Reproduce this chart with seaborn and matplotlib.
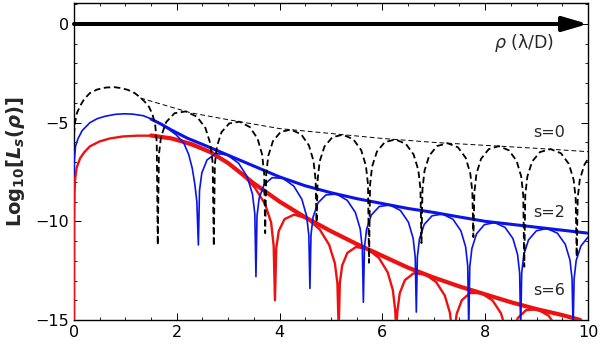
import numpy as np
import pandas as pd
import matplotlib
matplotlib.use("Agg")
import matplotlib.pyplot as plt
from matplotlib.ticker import MultipleLocator
import seaborn as sns

# ---------------- data ----------------
# s = 0 : oscillating curve (black dashed)
s0_x = [0.0, 0.02, 0.06, 0.12, 0.2, 0.31, 0.45, 0.62, 0.78, 0.92, 1.05, 1.18, 1.29, 1.38, 1.46, 1.53, 1.58, 1.61,
        1.63, 1.652, 1.695, 1.794, 1.957, 2.175, 2.393, 2.557, 2.655, 2.698,
        2.72, 2.74, 2.78, 2.87, 3.02, 3.22, 3.42, 3.57, 3.66, 3.70,
        3.72, 3.74, 3.78, 3.87, 4.02, 4.22, 4.42, 4.57, 4.66, 4.70,
        4.72, 4.74, 4.78, 4.873, 5.026, 5.23, 5.434, 5.587, 5.679, 5.72,
        5.74, 5.76, 5.80, 5.893, 6.046, 6.25, 6.454, 6.607, 6.699, 6.74,
        6.76, 6.78, 6.82, 6.91, 7.06, 7.265, 7.47, 7.62, 7.71, 7.75,
        7.77, 7.79, 7.83, 7.92, 8.07, 8.265, 8.46, 8.61, 8.70, 8.74,
        8.76, 8.78, 8.82, 8.913, 9.066, 9.27, 9.474, 9.627, 9.719, 9.76,
        9.78, 9.80, 9.84, 9.93, 10.0]
s0_y = [-5.6, -5.0, -4.5, -4.15, -3.8, -3.5, -3.32, -3.22, -3.2, -3.25, -3.34, -3.5, -3.72, -3.95, -4.2, -4.6, -5.1, -6.0,
        -11.2, -6.62, -5.70, -4.97, -4.52, -4.43, -4.70, -5.27, -6.08, -7.04,
        -11.25, -7.13, -6.21, -5.48, -5.04, -4.95, -5.22, -5.80, -6.61, -7.57,
        -10.6, -7.61, -6.68, -5.94, -5.47, -5.35, -5.59, -6.15, -6.94, -7.89,
        -10.05, -7.89, -6.96, -6.21, -5.74, -5.61, -5.84, -6.39, -7.18, -8.13,
        -12.1, -8.15, -7.22, -6.47, -5.99, -5.85, -6.07, -6.61, -7.40, -8.35,
        -11.1, -8.37, -7.43, -6.68, -6.19, -6.04, -6.25, -6.78, -7.57, -8.51,
        -10.8, -8.52, -7.58, -6.83, -6.34, -6.19, -6.40, -6.93, -7.72, -8.66,
        -12.3, -8.66, -7.73, -6.97, -6.49, -6.34, -6.55, -7.09, -7.88, -8.82,
        -11.8, -8.82, -7.89, -7.13, -6.84]
# s = 0 : envelope (thin dashed)
s0_env_x = [1.29, 2.27, 3.0, 4.0, 5.0, 6.0, 7.0, 8.0, 9.0, 10.0]
s0_env_y = [-3.75, -4.5, -4.85, -5.3, -5.55, -5.8, -6.0, -6.15, -6.3, -6.47]

# s = 2 : oscillating curve (blue)
s2_x = [0.0, 0.01, 0.03, 0.08, 0.16, 0.31, 0.45, 0.6, 0.8, 0.98, 1.15, 1.35, 1.54, 1.7, 1.85, 1.98, 2.13, 2.23, 2.30, 2.35, 2.39,
        2.42, 2.442, 2.487, 2.588, 2.756, 2.98, 3.204, 3.372, 3.473, 3.518,
        3.54, 3.561, 3.603, 3.698, 3.855, 4.065, 4.275, 4.433, 4.527, 4.569,
        4.59, 4.611, 4.652, 4.746, 4.902, 5.11, 5.318, 5.474, 5.568, 5.609,
        5.63, 5.651, 5.692, 5.785, 5.939, 6.145, 6.351, 6.506, 6.598, 6.639,
        6.66, 6.68, 6.721, 6.813, 6.966, 7.17, 7.374, 7.527, 7.619, 7.66,
        7.68, 7.70, 7.741, 7.832, 7.983, 8.185, 8.387, 8.539, 8.629, 8.67,
        8.69, 8.71, 8.751, 8.843, 8.996, 9.2, 9.404, 9.557, 9.649, 9.69,
        9.71, 9.73, 9.77, 9.862, 10.0]
s2_y = [-7.6, -6.8, -6.2, -5.8, -5.4, -5.0, -4.8, -4.68, -4.58, -4.55, -4.57, -4.65, -4.85, -5.08, -5.35, -5.6, -6.0, -6.6, -7.3, -8.1, -9.0,
        -11.2, -8.44, -7.55, -6.89, -6.56, -6.63, -7.06, -7.75, -8.63, -9.62,
        -12.8, -9.72, -8.82, -8.14, -7.79, -7.82, -8.21, -8.88, -9.74, -10.72,
        -13.4, -10.69, -9.78, -9.07, -8.66, -8.62, -8.94, -9.55, -10.38, -11.35,
        -14.1, -11.32, -10.40, -9.68, -9.25, -9.17, -9.45, -10.04, -10.86, -11.82,
        -14.6, -11.81, -10.89, -10.16, -9.72, -9.63, -9.90, -10.48, -11.29, -12.25,
        -15.5, -12.30, -11.38, -10.63, -10.17, -10.06, -10.31, -10.87, -11.67, -12.62,
        -15.5, -12.61, -11.69, -10.94, -10.48, -10.36, -10.60, -11.16, -11.96, -12.91,
        -15.5, -12.91, -11.99, -11.25, -10.8]
# s = 2 : envelope (thick blue)
s2_env_x = [1.5, 1.7, 1.88, 2.2, 2.5, 3.0, 3.5, 4.0, 4.5, 5.0, 5.5, 6.0, 6.5, 7.0, 7.5, 8.0, 8.5, 9.0, 9.5, 10.0]
s2_env_y = [-4.82, -5.08, -5.35, -5.78, -6.1, -6.65, -7.2, -7.75, -8.2, -8.55, -8.85, -9.1, -9.35, -9.55, -9.78, -10.0, -10.15, -10.3, -10.45, -10.6]

# s = 6 : oscillating curve (red)
s6_x = [0.0, 0.003, 0.01, 0.02, 0.05, 0.12, 0.2, 0.31, 0.5, 0.7, 0.95, 1.23, 1.5, 1.74, 1.95, 2.13, 2.4, 2.66, 3.0, 3.26, 3.52, 3.72, 3.835, 3.885,
        3.91, 3.935, 3.984, 4.096, 4.282, 4.53, 4.778, 4.964, 5.076, 5.125,
        5.15, 5.172, 5.217, 5.318, 5.486, 5.71, 5.934, 6.102, 6.203, 6.248,
        6.27, 6.292, 6.337, 6.437, 6.603, 6.825, 7.047, 7.214, 7.313, 7.358,
        7.38, 7.402, 7.445, 7.544, 7.707, 7.925, 8.143, 8.307, 8.405, 8.449,
        8.47, 8.492, 8.535, 8.634, 8.797, 9.015, 9.233, 9.397, 9.495, 9.56,
        9.7, 9.85, 10.0]
s6_y = [-15.5, -10.0, -8.6, -7.9, -7.3, -6.8, -6.5, -6.2, -5.95, -5.8, -5.7, -5.66, -5.66, -5.72, -5.85, -6.0, -6.25, -6.5, -7.05, -7.57, -8.3, -9.14, -10.06, -11.25,
        -14.0, -11.36, -10.49, -9.89, -9.66, -9.85, -10.40, -11.19, -12.13, -13.14,
        -15.5, -13.13, -12.24, -11.60, -11.30, -11.4, -11.86, -12.58, -13.48, -14.47,
        -15.5, -14.55, -13.65, -12.98, -12.64, -12.68, -13.08, -13.76, -14.63, -15.61,
        -16.0, -15.59, -14.69, -14.0, -13.63, -13.64, -14.01, -14.66, -15.51, -16.5,
        -17.0, -16.5, -15.61, -14.9, -14.5, -14.46, -14.78, -15.4, -16.2, -17.0,
        -16.0, -15.4, -15.2]
# s = 6 : envelope (thick red)
s6_env_x = [1.5, 1.9, 2.3, 2.66, 3.0, 3.5, 4.0, 4.5, 5.0, 5.5, 6.0, 6.5, 7.0, 7.5, 8.0, 8.5, 9.0, 9.5, 9.85]
s6_env_y = [-5.65, -5.8, -6.1, -6.5, -7.05, -8.08, -9.0, -9.8, -10.5, -11.15, -11.75, -12.35, -12.85, -13.3, -13.7, -14.1, -14.45, -14.75, -15.0]

curve_labels = ["s=0", "s=2", "s=6"]
label_x = [9.25, 9.25, 9.25]
label_y = [-5.5, -9.55, -13.5]

x_ticks = [0, 2, 4, 6, 8, 10]
y_ticks = [0, -5, -10, -15]

# ---------------- plotting ----------------
sns.set_style("ticks")
plt.rcParams["font.family"] = ["DejaVu Sans"]
plt.rcParams["mathtext.fontset"] = "custom"
plt.rcParams["mathtext.rm"] = "DejaVu Sans:bold"
plt.rcParams["mathtext.it"] = "DejaVu Sans:italic:bold"

fig = plt.figure(figsize=(6.0, 3.45), dpi=100)
ax = fig.add_axes([0.1233, 0.0725, 0.8567, 0.918])

BLUE = "#0a14e6"
RED = "#ee1111"

def draw(x, y, **kw):
    df = pd.DataFrame({"x": x, "y": y})
    sns.lineplot(data=df, x="x", y="y", sort=False, estimator=None, ax=ax, **kw)

draw(s6_x, s6_y, color=RED, linewidth=1.7, zorder=3)
draw(s6_env_x, s6_env_y, color=RED, linewidth=3.0, zorder=3)
draw(s2_x, s2_y, color=BLUE, linewidth=1.2, zorder=4)
draw(s2_env_x, s2_env_y, color=BLUE, linewidth=2.2, zorder=4)
draw(s0_x, s0_y, color="black", linewidth=1.3, linestyle=(0, (3.6, 2.0)), zorder=5)
draw(s0_env_x, s0_env_y, color="black", linewidth=0.7, linestyle=(0, (5, 3)), zorder=5)

# axis arrow along rho
ax.annotate("", xy=(10, 0), xytext=(0, 0), xycoords="data",
            arrowprops=dict(arrowstyle="-|>,head_length=0.75,head_width=0.22",
                            color="black", lw=2.9, mutation_scale=20,
                            shrinkA=0, shrinkB=0), zorder=6, annotation_clip=False)
ax.text(8.75, -0.95, "$\\rho$ (\u03bb/D)", fontsize=12.5, ha="center", va="center",
        math_fontfamily="dejavusans")

for lab, lx, ly in zip(curve_labels, label_x, label_y):
    ax.text(lx, ly, lab, fontsize=11.5, ha="center", va="center")

ax.set_xlim(0, 10)
ax.set_ylim(-15, 1.05)
ax.set_xticks(x_ticks)
ax.set_yticks(y_ticks)
ax.set_xticklabels([str(v) for v in x_ticks])
ax.set_yticklabels([str(v).replace("-", "\u2212") for v in y_ticks])
ax.xaxis.set_minor_locator(MultipleLocator(0.5))
ax.yaxis.set_minor_locator(MultipleLocator(1))
ax.tick_params(which="both", direction="in", top=True, right=True, colors="black", labelsize=11.5)
ax.tick_params(which="major", length=5, width=0.7)
ax.tick_params(which="minor", length=2.5, width=0.6)
for sp in ax.spines.values():
    sp.set_linewidth(1.0)
    sp.set_color("black")
    sp.set_visible(True)

ax.set_xlabel("")
ax.set_ylabel(r"Log$_{10}$[$L_s(\rho)$]", fontsize=14, fontweight="bold", labelpad=6)

fig.savefig("out.png", dpi=100)
